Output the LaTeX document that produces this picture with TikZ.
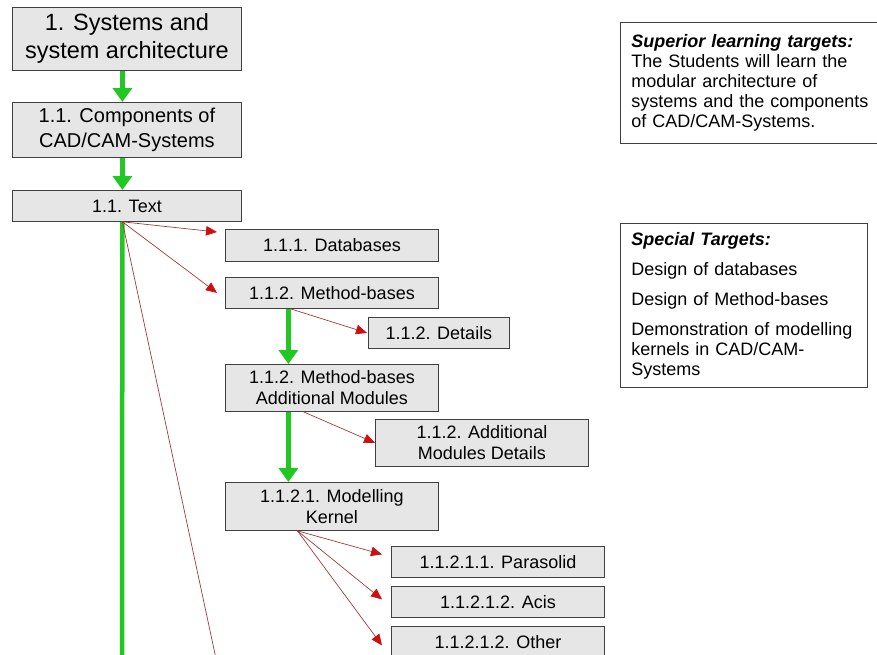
\documentclass[tikz,border=0pt]{standalone}
\usepackage{fontspec}
\setmainfont{Liberation Sans}
\usetikzlibrary{arrows.meta}

\definecolor{boxgray}{RGB}{230,230,230}
\definecolor{flowgreen}{RGB}{34,200,34}
\definecolor{linkred}{RGB}{160,60,60}
\definecolor{tipred}{RGB}{205,15,15}

\tikzset{
  topic/.style={draw=black!75, line width=0.8pt, fill=boxgray, align=center,
    inner sep=0pt, anchor=north west, font=\fontsize{18}{21}\selectfont},
  goalbox/.style={draw=black!75, line width=0.8pt, fill=white, align=left,
    anchor=north west, inner xsep=11pt, inner ysep=0pt, font=\fontsize{18}{20}\selectfont},
  flow/.style={flowgreen, line width=4.5pt, -{Triangle[width=19pt,length=14pt]}},
  link/.style={linkred, line width=0.7pt,
    -{Triangle[width=9.5pt,length=11pt,color=tipred,fill=tipred]}}
}

\begin{document}
\begin{tikzpicture}[x=1pt,y=1pt]
  \useasboundingbox (0,0) rectangle (877,-654);
  \clip (0,0) rectangle (877,-654);

  % main chain
  \node[topic, minimum width=229pt, minimum height=63pt,
    font=\fontsize{23.5}{28}\selectfont] (sys) at (12,-7) {1. Systems and\\system architecture};
  \node[topic, minimum width=229pt, minimum height=55pt,
    font=\fontsize{20}{25}\selectfont] (comp) at (12,-102) {1.1. Components of\\CAD/CAM-Systems};
  \node[topic, minimum width=229pt, minimum height=31pt] (txt) at (12,-190) {1.1. Text};

  % sub topics
  \node[topic, minimum width=213pt, minimum height=32pt] (db) at (225,-229) {1.1.1. Databases};
  \node[topic, minimum width=213pt, minimum height=31pt] (mb) at (225,-277) {1.1.2. Method-bases};
  \node[topic, minimum width=141pt, minimum height=31pt] (mbdet) at (368,-317) {1.1.2. Details};
  \node[topic, minimum width=213pt, minimum height=47pt] (mbadd) at (225,-364) {1.1.2. Method-bases\\Additional Modules};
  \node[topic, minimum width=213pt, minimum height=47pt] (adddet) at (375,-419) {1.1.2. Additional\\Modules Details};
  \node[topic, minimum width=213pt, minimum height=48pt] (kern) at (225,-482) {1.1.2.1. Modelling\\Kernel};
  \node[topic, minimum width=213pt, minimum height=31pt] (paras) at (391,-546) {1.1.2.1.1. Parasolid};
  \node[topic, minimum width=213pt, minimum height=31pt] (acis) at (391,-586) {1.1.2.1.2. Acis};
  \node[topic, minimum width=213pt, minimum height=31pt] (other) at (391,-626) {1.1.2.1.2. Other};

  % learning targets
  \node[goalbox, text width=240pt, minimum height=121pt] (superior) at (620,-22)
    {\textbf{\textit{Superior learning targets:}}\\The Students will learn the\\modular architecture of\\systems and the components\\of CAD/CAM-Systems.};
  \node[goalbox, text width=225pt, minimum height=164pt] (special) at (620,-223)
    {\textbf{\textit{Special Targets:}}\\[10pt]Design of databases\\[10pt]Design of Method-bases\\[10pt]Demonstration of modelling\\kernels in CAD/CAM-\\Systems};

  % green flow
  \coordinate (hub) at ([xshift=-4.5pt]txt.south);
  \coordinate (trunkend) at (122,-670);
  \coordinate (linkend) at (218,-668);
  \draw[flow] ([xshift=-4.5pt]sys.south) -- ([xshift=-4.5pt]comp.north);
  \draw[flow] ([xshift=-4.5pt]comp.south) -- ([xshift=-4.5pt]txt.north);
  \draw[flowgreen, line width=4.5pt] (hub) -- (trunkend);
  \draw[flow] ([xshift=-43.5pt]mb.south) -- ([xshift=-43.5pt]mbadd.north);
  \draw[flow] ([xshift=-43.5pt]mbadd.south) -- ([xshift=-43.5pt]kern.north);

  % red links
  \draw[link] (hub) -- ([xshift=-8pt,yshift=-3pt]db.north west);
  \draw[link] (hub) -- ([xshift=-8pt]mb.west);
  \draw[link] (hub) -- (linkend);
  \draw[link] ([xshift=-41.5pt]mb.south) -- ([xshift=-1pt]mbdet.west);
  \draw[link] ([xshift=-28.5pt]mbadd.south) -- (adddet.west);
  \foreach \tgt/\dy in {paras/7.5, acis/2.5, other/-3.5}
    \draw[link] ([xshift=-34.5pt]kern.south) -- ([xshift=-9pt,yshift=\dy pt]\tgt.west);
\end{tikzpicture}
\end{document}
